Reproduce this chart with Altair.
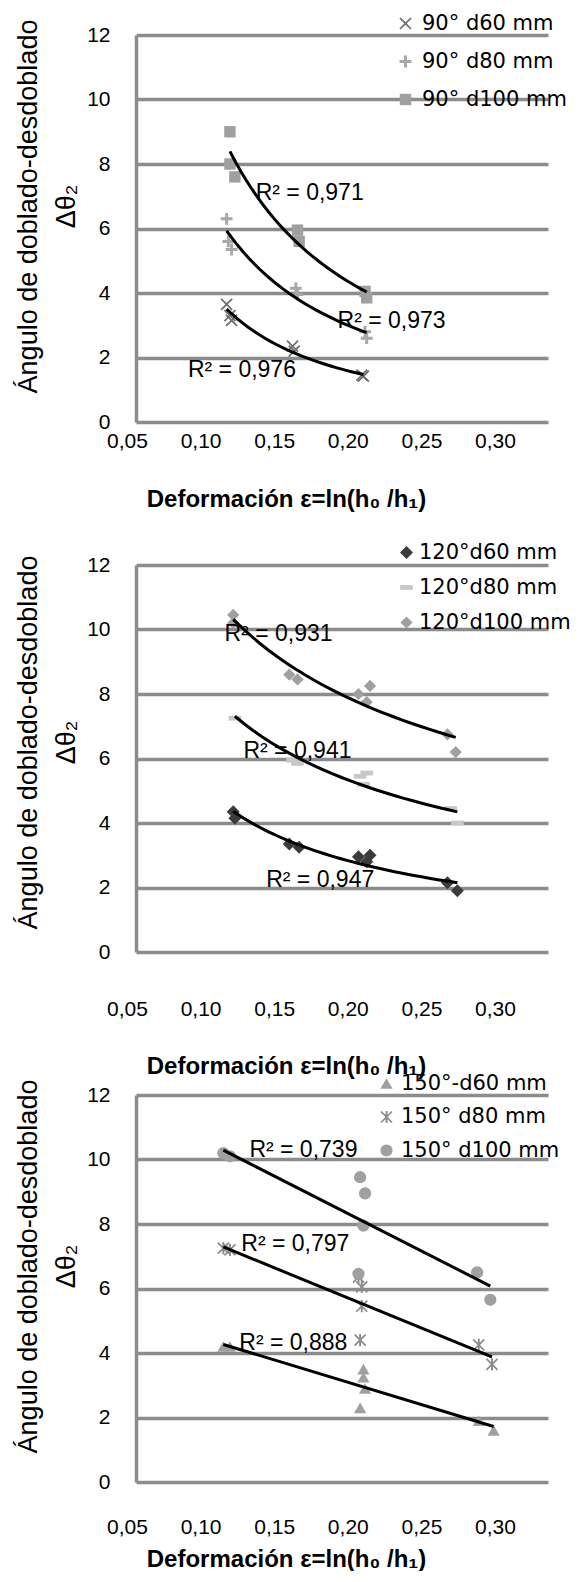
import altair as alt
import pandas as pd

# ---------------- data ----------------
X_DOMAIN = [0.05, 0.30]
Y_DOMAIN = [0, 12]
X_TICKS = [0.05, 0.10, 0.15, 0.20, 0.25, 0.30]
Y_TICKS = [0, 2, 4, 6, 8, 10, 12]

# Panel 1: 90 degrees (power trend lines)
s90 = ["90° d60 mm", "90° d80 mm", "90° d100 mm"]
x90_d60 = [0.105, 0.107, 0.108, 0.145, 0.146, 0.187, 0.188]
y90_d60 = [3.65, 3.30, 3.15, 2.35, 2.20, 1.45, 1.42]
x90_d80 = [0.105, 0.106, 0.108, 0.147, 0.148, 0.189, 0.190]
y90_d80 = [6.30, 5.60, 5.35, 4.15, 3.95, 2.80, 2.60]
x90_d100 = [0.107, 0.107, 0.110, 0.148, 0.149, 0.189, 0.190]
y90_d100 = [9.00, 8.00, 7.60, 5.95, 5.60, 4.05, 3.85]
r2_90_text = ["R² = 0,971", "R² = 0,973", "R² = 0,976"]
r2_90_x = [0.1226, 0.1723, 0.0815]
r2_90_y = [7.09, 3.12, 1.62]

# Panel 2: 120 degrees (power trend lines)
s120 = ["120°d60 mm", "120°d80 mm", "120°d100 mm"]
x120_d60 = [0.109, 0.110, 0.143, 0.149, 0.185, 0.192, 0.190, 0.239, 0.245]
y120_d60 = [4.35, 4.15, 3.35, 3.25, 2.95, 3.00, 2.80, 2.15, 1.90]
x120_d80 = [0.110, 0.145, 0.148, 0.186, 0.190, 0.188, 0.241, 0.245]
y120_d80 = [7.25, 5.95, 5.85, 5.45, 5.55, 5.20, 4.45, 4.00]
x120_d100 = [0.109, 0.109, 0.143, 0.148, 0.185, 0.192, 0.190, 0.239, 0.244]
y120_d100 = [10.45, 10.20, 8.60, 8.45, 8.00, 8.25, 7.75, 6.75, 6.20]
r2_120_text = ["R² = 0,931", "R² = 0,941", "R² = 0,947"]
r2_120_x = [0.1037, 0.1152, 0.1290]
r2_120_y = [9.85, 6.23, 2.22]

# Panel 3: 150 degrees (linear trend lines)
s150 = ["150°-d60 mm", "150° d80 mm", "150° d100 mm"]
x150_d60 = [0.103, 0.107, 0.186, 0.188, 0.188, 0.189, 0.258, 0.267]
y150_d60 = [4.20, 4.20, 2.30, 3.50, 3.25, 2.90, 1.90, 1.60]
x150_d80 = [0.103, 0.107, 0.185, 0.187, 0.187, 0.186, 0.258, 0.266]
y150_d80 = [7.25, 7.20, 6.35, 6.05, 5.45, 4.40, 4.25, 3.65]
x150_d100 = [0.103, 0.107, 0.186, 0.189, 0.188, 0.185, 0.257, 0.265]
y150_d100 = [10.20, 10.10, 9.45, 8.95, 7.95, 6.45, 6.50, 5.65]
r2_150_text = ["R² = 0,739", "R² = 0,797", "R² = 0,888"]
r2_150_x = [0.1188, 0.1139, 0.1127]
r2_150_y = [10.30, 7.39, 4.30]

Y_TITLE = ["Ángulo de doblado-desdoblado", "Δθ₂"]
X_TITLE = "Deformación ε=ln(h₀ /h₁)"

# ---------------- symbol shapes ----------------
X_SHAPE = "M-1,-0.8L-0.8,-1L0,-0.2L0.8,-1L1,-0.8L0.2,0L1,0.8L0.8,1L0,0.2L-0.8,1L-1,0.8L-0.2,0Z"
PLUS_SHAPE = "M-0.25,-1L0.25,-1L0.25,-0.25L1,-0.25L1,0.25L0.25,0.25L0.25,1L-0.25,1L-0.25,0.25L-1,0.25L-1,-0.25L-0.25,-0.25Z"
DASH_SHAPE = "M-1,-0.38L1,-0.38L1,0.38L-1,0.38Z"
STAR_SHAPE = X_SHAPE + "M-0.16,-1L0.16,-1L0.16,1L-0.16,1Z"


def make_df(series, xs_list, ys_list):
    rows = []
    for s, xs, ys in zip(series, xs_list, ys_list):
        for a, b in zip(xs, ys):
            rows.append({"serie": s, "x": a, "y": b})
    return pd.DataFrame(rows)


GRID = "#8c8c8c"
W = 412
H = 387


def panel(df, series, colors, shapes, sizes, method, r2_text, r2_x, r2_y, lay):
    xs = alt.Scale(domain=X_DOMAIN, nice=False, zero=False)
    ys = alt.Scale(domain=Y_DOMAIN, nice=False, zero=False)
    yaxis = alt.Axis(
        values=Y_TICKS, grid=True, gridColor=GRID, gridWidth=3.5,
        domain=True, domainColor=GRID, domainWidth=3.5, ticks=False,
        labelFont="Liberation Sans", labelFontSize=21, labelColor="black",
        labelPadding=26,
        title=Y_TITLE, titleFont="Liberation Sans", titleFontSize=27,
        titleFontWeight="normal", titleColor="black", titleLineHeight=38,
        titleAngle=270, titleBaseline="bottom", titleAlign="center",
        titleX=-94, titleY=lay["ytitle_y"],
    )
    X = alt.X("x:Q", scale=xs, axis=None)
    Y = alt.Y("y:Q", scale=ys, axis=yaxis)

    legend = alt.Legend(
        title=None, orient="none", legendX=lay["legX"], legendY=lay["legY"],
        labelFont="DejaVu Sans", labelFontSize=21, labelColor="black", labelLimit=0,
        labelOffset=lay["labOff"], rowPadding=lay["rowPad"], padding=0,
        symbolSize=140, symbolStrokeWidth=0, symbolOpacity=1,
    )

    axis_layer = alt.Chart(df).mark_point(opacity=0).encode(
        x=alt.X(
            "x:Q",
            scale=alt.Scale(domain=X_DOMAIN, range=[-9, 359], nice=False, zero=False),
            axis=alt.Axis(
                orient="bottom", values=X_TICKS,
                labelExpr="replace(format(datum.value, '.2f'), '.', ',')",
                grid=False, domain=False, ticks=False, labelFlush=False,
                labelOverlap=False, labelAlign="center",
                labelFont="Liberation Sans", labelFontSize=21, labelColor="black",
                labelPadding=lay["xlabpad"],
                title=X_TITLE, titleFont="Liberation Sans", titleFontSize=24,
                titleFontWeight="bold", titleColor="black",
                titleX=150, titleY=lay["xtitle_y"], titleBaseline="top",
                titleAlign="center",
            ),
        ),
    )

    pts = alt.Chart(df).mark_point(filled=True, opacity=1, strokeWidth=0).encode(
        x=X, y=Y,
        color=alt.Color("serie:N", scale=alt.Scale(domain=series, range=colors), legend=legend),
        shape=alt.Shape("serie:N", scale=alt.Scale(domain=series, range=shapes), legend=legend),
        size=alt.Size("serie:N", scale=alt.Scale(domain=series, range=sizes), legend=None),
    )

    trend = alt.Chart(df).transform_regression(
        "x", "y", groupby=["serie"], method=method
    ).mark_line(color="black", strokeWidth=3).encode(x=X, y=Y, detail="serie:N")

    r2df = pd.DataFrame({"x": r2_x, "y": r2_y, "t": r2_text})
    txt = alt.Chart(r2df).mark_text(
        align="left", baseline="middle", font="Liberation Sans", fontSize=23, color="black"
    ).encode(x=X, y=Y, text="t:N")

    return alt.layer(axis_layer, pts, trend, txt).resolve_scale(x="independent").properties(
        width=W, height=H
    )


df90 = make_df(s90, [x90_d60, x90_d80, x90_d100], [y90_d60, y90_d80, y90_d100])
df120 = make_df(s120, [x120_d60, x120_d80, x120_d100], [y120_d60, y120_d80, y120_d100])
df150 = make_df(s150, [x150_d60, x150_d80, x150_d100], [y150_d60, y150_d80, y150_d100])

c1 = panel(
    df90, s90, ["#6e6e6e", "#a8a8a8", "#a0a0a0"], [X_SHAPE, PLUS_SHAPE, "square"],
    [150, 130, 55], "pow", r2_90_text, r2_90_x, r2_90_y,
    dict(ytitle_y=171, legX=259, legY=-22, labOff=6, rowPad=16, xlabpad=8, xtitle_y=65),
)
c2 = panel(
    df120, s120, ["#3c3c3c", "#c8c8c8", "#a0a0a0"], ["diamond", DASH_SHAPE, "diamond"],
    [170, 150, 170], "pow", r2_120_text, r2_120_x, r2_120_y,
    dict(ytitle_y=177, legX=260, legY=-23, labOff=2, rowPad=13, xlabpad=46, xtitle_y=102),
)
c3 = panel(
    df150, s150, ["#a0a0a0", "#8c8c8c", "#a0a0a0"], ["triangle-up", STAR_SHAPE, "circle"],
    [150, 150, 170], "linear", r2_150_text, r2_150_x, r2_150_y,
    dict(ytitle_y=171, legX=240, legY=-22, labOff=4, rowPad=11.5, xlabpad=34, xtitle_y=65),
)

chart = alt.vconcat(c1, c2, c3, spacing=143, bounds="flush").resolve_scale(
    color="independent", shape="independent", size="independent"
).resolve_legend(
    color="independent", shape="independent", size="independent"
).properties(
    padding={"left": 5, "top": 5, "right": 0, "bottom": 0}
).configure_view(stroke=None)

chart.save("out.html", embed_options={"renderer": "svg", "actions": False})
